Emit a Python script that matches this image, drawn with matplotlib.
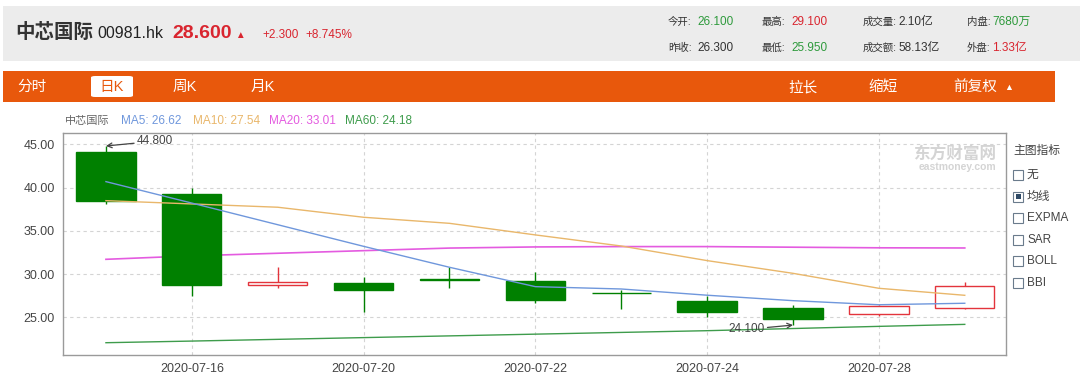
import matplotlib
matplotlib.use("Agg")
import matplotlib.pyplot as plt
from matplotlib.patches import Rectangle, FancyBboxPatch

plt.rcParams['font.family'] = ['Liberation Sans', 'Noto Sans CJK SC', 'DejaVu Sans']

# daily candles
dates = ['2020-07-15', '2020-07-16', '2020-07-17', '2020-07-20', '2020-07-21', '2020-07-22',
         '2020-07-23', '2020-07-24', '2020-07-27', '2020-07-28', '2020-07-29']
opens = [44.14, 39.22, 28.70, 28.96, 29.45, 29.20, 27.85, 26.92, 26.05, 25.38, 26.10]
closes = [38.48, 28.73, 29.05, 28.12, 29.35, 27.00, 27.75, 25.65, 24.80, 26.30, 28.60]
highs = [44.80, 39.98, 30.85, 29.70, 30.85, 30.27, 28.16, 27.50, 26.45, 26.42, 29.10]
lows = [38.06, 27.50, 28.40, 25.65, 28.35, 26.69, 25.92, 25.00, 24.10, 25.20, 25.95]

ma5 = [40.68, 38.20, 35.70, 33.20, 30.78, 28.54, 28.27, 27.55, 26.92, 26.45, 26.62]
ma10 = [38.48, 38.10, 37.72, 36.56, 35.86, 34.52, 33.24, 31.55, 30.08, 28.35, 27.54]
ma20 = [31.70, 32.10, 32.40, 32.70, 33.00, 33.13, 33.17, 33.17, 33.10, 33.03, 33.01]
ma60 = [22.06, 22.25, 22.45, 22.65, 22.85, 23.05, 23.25, 23.45, 23.70, 23.95, 24.18]

tick_idx = [1, 3, 5, 7, 9]
y_ticks = [25, 30, 35, 40, 45]

GREEN = '#008000'
RED = '#e3343c'
C5, C10, C20, C60 = '#6f97dc', '#e9b76b', '#e45be0', '#3e9c4c'

W, H = 1080, 376
fig = plt.figure(figsize=(W / 100, H / 100), dpi=100)


def fx(x):
    return x / W


def fy(y):
    return 1 - y / H


def ftext(x, y, s, **kw):
    kw.setdefault('va', 'center')
    kw.setdefault('ha', 'left')
    fig.text(fx(x), fy(y), s, **kw)


# header band
fig.patches.append(Rectangle((fx(3), fy(61)), fx(1077), 55 / H, transform=fig.transFigure,
                             facecolor='#ececec', edgecolor='none'))
ftext(15, 33, '中芯国际', fontsize=14, fontweight='bold', color='#333333')
ftext(97, 34, '00981.hk', fontsize=11.5, color='#222222')
ftext(172, 33, '28.600', fontsize=14, fontweight='bold', color='#d9252f')
ftext(235, 35, '▲', fontsize=7, color='#d9252f')
ftext(262, 35, '+2.300', fontsize=8.5, color='#d9252f')
ftext(305, 35, '+8.745%', fontsize=8.5, color='#d9252f')

info = [
    (668, 697, 22, '今开:', '26.100', '#2e9a3c'),
    (668, 697, 48, '昨收:', '26.300', '#333333'),
    (762, 791, 22, '最高:', '29.100', '#d9252f'),
    (762, 791, 48, '最低:', '25.950', '#2e9a3c'),
    (863, 898, 22, '成交量:', '2.10亿', '#333333'),
    (863, 898, 48, '成交额:', '58.13亿', '#333333'),
    (967, 992, 22, '内盘:', '7680万', '#2e9a3c'),
    (967, 992, 48, '外盘:', '1.33亿', '#d9252f'),
]
for lx, vx, yy, lab, val, col in info:
    ftext(lx, yy, lab, fontsize=7.5, color='#333333')
    ftext(vx, yy, val, fontsize=8.5, color=col)

# orange tab bar
ORANGE = '#e8580c'
fig.patches.append(Rectangle((fx(3), fy(102)), fx(1052), 31 / H, transform=fig.transFigure,
                             facecolor=ORANGE, edgecolor='none'))
fig.patches.append(FancyBboxPatch((fx(91), fy(97)), fx(42), 21 / H, transform=fig.transFigure,
                                  boxstyle='round,pad=0,rounding_size=0.004',
                                  facecolor='white', edgecolor='none'))
ftext(17, 87, '分时', fontsize=10.5, color='white')
ftext(99, 87, '日K', fontsize=10.5, color=ORANGE)
ftext(173, 87, '周K', fontsize=10.5, color='white')
ftext(251, 87, '月K', fontsize=10.5, color='white')
ftext(788, 87, '拉长', fontsize=10.5, color='white')
ftext(868, 87, '缩短', fontsize=10.5, color='white')
ftext(953, 87, '前复权', fontsize=10.5, color='white')
ftext(1004, 88, '▲', fontsize=6.5, color='white')

# MA legend row
ftext(65, 121, '中芯国际', fontsize=8, color='#666666')
ftext(121, 121, 'MA5: %.2f' % ma5[-1], fontsize=8.5, color=C5)
ftext(193, 121, 'MA10: %.2f' % ma10[-1], fontsize=8.5, color=C10)
ftext(269, 121, 'MA20: %.2f' % ma20[-1], fontsize=8.5, color=C20)
ftext(345, 121, 'MA60: %.2f' % ma60[-1], fontsize=8.5, color=C60)

# right indicator panel
ftext(1013, 151, '主图指标', fontsize=8.5, color='#444444')
opts = ['无', '均线', 'EXPMA', 'SAR', 'BOLL', 'BBI']
for i, o in enumerate(opts):
    yy = 175 + i * 21.5
    fig.patches.append(Rectangle((fx(1013), fy(yy + 5)), fx(10), 10 / H, transform=fig.transFigure,
                                 facecolor='white', edgecolor='#6a7b8c', linewidth=0.8))
    if o == '均线':
        fig.patches.append(Rectangle((fx(1015.5), fy(yy + 2.5)), fx(5), 5 / H,
                                     transform=fig.transFigure, facecolor='#2f4a66',
                                     edgecolor='none'))
    ftext(1027, yy, o, fontsize=8.5, color='#444444')

# main chart
ax = fig.add_axes([fx(63), fy(355), fx(1006 - 63), (355 - 133) / H])
x = list(range(len(dates)))

ax.plot(x, ma60, color=C60, lw=1, zorder=2)
ax.plot(x, ma20, color=C20, lw=1.2, zorder=2)

for i in x:
    up = closes[i] >= opens[i]
    col = RED if up else GREEN
    ax.vlines(i, lows[i], highs[i], color=col, lw=1, zorder=3)
    ax.bar(i, closes[i] - opens[i], bottom=opens[i], width=0.69,
           facecolor='white' if up else col, edgecolor=col, linewidth=1, zorder=4)

ax.plot(x, ma10, color=C10, lw=1, zorder=5)
ax.plot(x, ma5, color=C5, lw=1, zorder=5)

hi = max(highs)
lo = min(lows)
ax.annotate('%.3f' % hi, xy=(highs.index(hi), hi), xytext=(0.36, 45.35),
            ha='left', va='center', fontsize=8.5, color='#444444',
            arrowprops=dict(arrowstyle='->', color='#444444', lw=0.9, shrinkA=0, shrinkB=0))
ax.annotate('%.3f' % lo, xy=(lows.index(lo), lo), xytext=(7.67, 23.6),
            ha='right', va='center', fontsize=8.5, color='#444444',
            arrowprops=dict(arrowstyle='->', color='#444444', lw=0.9, shrinkA=0, shrinkB=0))

# watermark
ax.text(0.99, 0.90, '东方财富网', transform=ax.transAxes, ha='right', va='center',
        fontsize=12, fontweight='bold', color='#d4d4d4', zorder=1)
ax.text(0.99, 0.845, 'eastmoney.com', transform=ax.transAxes, ha='right', va='center',
        fontsize=7.5, fontweight='bold', color='#d4d4d4', zorder=1)

ax.set_xlim(-0.5, 10.48)
ax.set_ylim(20.64, 46.3)
ax.set_yticks(y_ticks)
ax.set_yticklabels(['%.2f' % v for v in y_ticks])
ax.set_xticks(tick_idx)
ax.set_xticklabels([dates[i] for i in tick_idx])
ax.tick_params(length=0, labelsize=9, colors='#444444', pad=6)
ax.grid(True, color='#d4d4d4', linestyle=(0, (3, 3)), lw=0.8, zorder=0)
ax.set_axisbelow(True)
for s in ax.spines.values():
    s.set_color('#9a9a9a')
    s.set_linewidth(1)

fig.savefig('out.png', dpi=100)
